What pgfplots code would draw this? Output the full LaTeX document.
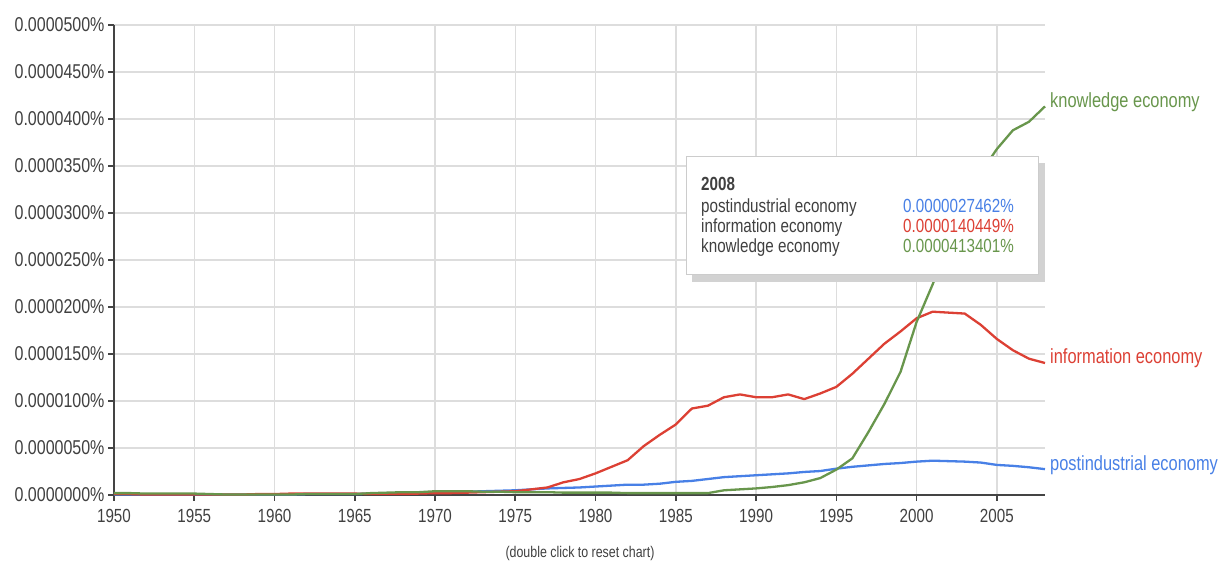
\documentclass[border=0pt]{standalone}
\usepackage{fontspec}
\setmainfont{Liberation Sans}[FakeStretch=0.8]
\usepackage{pgfplots}
\pgfplotsset{compat=1.18}

\definecolor{ngblue}{RGB}{72 128 230}
\definecolor{ngred}{RGB}{220 64 52}
\definecolor{nggreen}{RGB}{104 150 76}
\definecolor{axisgray}{RGB}{68 68 68}
\definecolor{gridgray}{RGB}{221 221 221}
\definecolor{textgray}{RGB}{64 64 64}

% values in units of 0.0000001 %
\pgfplotstableread{
year post info know
1950 0.5 1.0 2.0
1951 0.5 1.0 2.0
1952 0.5 0.5 1.5
1953 0.5 0.5 1.5
1954 0.5 0.5 1.5
1955 0.5 0.5 1.5
1956 0.5 0.5 1.0
1957 0.5 0.5 0.5
1958 0.5 0.5 0.5
1959 0.5 1.0 0.5
1960 0.5 1.0 0.5
1961 0.5 1.5 0.5
1962 1.0 1.5 1.0
1963 1.0 1.5 1.0
1964 1.0 1.5 1.0
1965 1.0 1.5 1.0
1966 1.5 1.0 2.0
1967 1.5 1.0 2.5
1968 2.0 1.0 3.0
1969 2.5 1.5 3.0
1970 3.0 2.0 4.0
1971 3.0 2.0 4.0
1972 3.5 2.5 4.0
1973 4.0 3.0 3.5
1974 4.5 3.5 3.5
1975 5.0 4.0 3.0
1976 6.0 6.0 3.0
1977 7.0 8.0 3.0
1978 7.5 13.5 2.5
1979 8.0 17 2.5
1980 9.0 23 2.5
1981 10 30 2.5
1982 11 37 2.0
1983 11 52 2.0
1984 12 64 2.0
1985 14 75 2.0
1986 15 92 2.0
1987 17 95 2.0
1988 19 104 5.0
1989 20 107 6.0
1990 21 104 7.0
1991 22 104 8.5
1992 23 107 10.5
1993 24.5 102 13.5
1994 25.5 108 18
1995 28 115 27
1996 30 129 39
1997 31.5 145 67
1998 33 161 97
1999 34 174 131
2000 35.5 188 184
2001 36.5 195 224
2002 36 194 268
2003 35.5 193 308
2004 34.5 181 343
2005 32 166 368
2006 31 154 388
2007 29.5 145 397
2008 27.5 140.4 413.4
}\ngdata

\begin{document}
\begin{tikzpicture}[x=1pt,y=1pt]
\path[use as bounding box] (0,0) rectangle (1221,561);
\begin{axis}[
    at={(114pt,66pt)}, anchor=south west,
    scale only axis,
    width=931pt, height=470pt,
    xmin=1950, xmax=2008,
    ymin=0, ymax=500,
    xtick={1950,1955,...,2005},
    xticklabels={1950,1955,1960,1965,1970,1975,1980,1985,1990,1995,2000,2005},
    ytick={0,50,...,500},
    yticklabels={0.0000000\%,0.0000050\%,0.0000100\%,0.0000150\%,0.0000200\%,0.0000250\%,0.0000300\%,0.0000350\%,0.0000400\%,0.0000450\%,0.0000500\%},
    axis x line*=bottom, axis y line*=left,
    axis line style={-, draw=axisgray, line width=2.4pt},
    tick align=outside,
    major tick length=6pt,
    tick style={draw=axisgray, line width=1.6pt},
    xtick pos=lower, ytick pos=left,
    grid=major,
    major grid style={draw=gridgray, line width=1.4pt},
    yticklabel style={font=\fontsize{20}{22}\selectfont, text=textgray, xshift=0pt},
    xticklabel style={font=\fontsize{19}{21}\selectfont, text=textgray, yshift=-5pt},
    every axis plot/.append style={no marks, line width=2.3pt, line join=round},
    clip=false,
]
\addplot[ngblue] table[x=year, y=post] {\ngdata};
\addplot[ngred] table[x=year, y=info] {\ngdata};
\addplot[nggreen] table[x=year, y=know] {\ngdata};

\node[anchor=west, text=nggreen, font=\fontsize{20.5}{22}\selectfont, inner sep=0pt, xshift=5pt] at (axis cs:2008,418) {knowledge economy};
\node[anchor=west, text=ngred, font=\fontsize{20.5}{22}\selectfont, inner sep=0pt, xshift=5pt] at (axis cs:2008,146) {information economy};
\node[anchor=west, text=ngblue, font=\fontsize{20.5}{22}\selectfont, inner sep=0pt, xshift=5pt] at (axis cs:2008,32) {postindustrial economy};
\end{axis}

% tooltip
\fill[gray!35] (692,279) rectangle (1045,398);
\filldraw[fill=white, draw=gray!40, line width=1pt] (686,286) rectangle (1038,404);
\begin{scope}[every node/.style={anchor=base west, inner sep=0pt, font=\fontsize{19}{21}\selectfont}]
\node[text=textgray, font=\fontsize{19}{21}\selectfont\bfseries] at (701,370) {2008};
\node[text=textgray] at (701,348) {postindustrial economy};
\node[text=textgray] at (701,328) {information economy};
\node[text=textgray] at (701,308) {knowledge economy};
\node[text=ngblue] at (903,348) {0.0000027462\%};
\node[text=ngred] at (903,328) {0.0000140449\%};
\node[text=nggreen] at (903,308) {0.0000413401\%};
\end{scope}

\node[text=textgray, font=\fontsize{15.5}{17}\selectfont] at (580,8) {(double click to reset chart)};
\end{tikzpicture}
\end{document}
